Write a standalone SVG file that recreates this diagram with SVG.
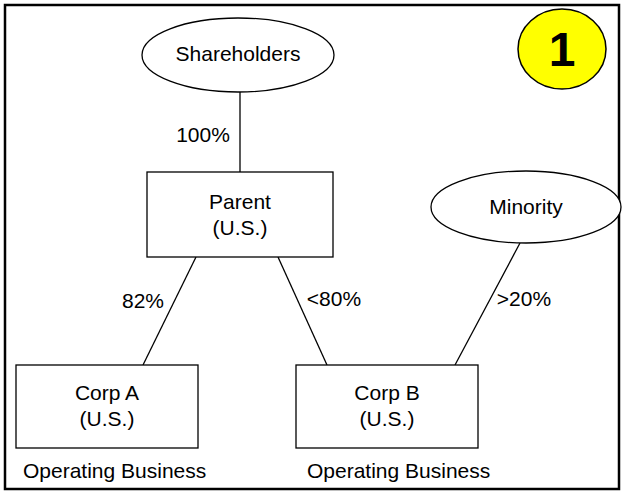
<svg xmlns="http://www.w3.org/2000/svg" width="624" height="495" viewBox="0 0 624 495">
<style>
text{font-family:"Liberation Sans",Arial,sans-serif;font-size:21px;fill:#000}
.shape{fill:#fff;stroke:#000;stroke-width:1.3}
.c{text-anchor:middle}
.conn line{stroke:#000;stroke-width:1.3}
</style>
<rect x="0" y="0" width="624" height="495" fill="#fff"/>
<rect x="5" y="5" width="614" height="484" fill="none" stroke="#000" stroke-width="2.5"/>
<g id="conns" class="conn">
<line x1="240" y1="92" x2="240" y2="172"/>
<line x1="196" y1="257" x2="143" y2="365"/>
<line x1="278" y1="257" x2="327" y2="365"/>
<line x1="520" y1="243" x2="455" y2="365"/>
</g>
<g id="labels">
<text x="203" y="142" class="c">100%</text>
<text x="143" y="308" class="c">82%</text>
<text x="334" y="306" class="c">&lt;80%</text>
<text x="524" y="306" class="c">&gt;20%</text>
</g>
<g id="shareholders">
<ellipse cx="238" cy="55" rx="96" ry="37" class="shape"/>
<text x="238" y="61" class="c">Shareholders</text>
</g>
<g id="badge">
<ellipse cx="562" cy="49" rx="44" ry="40" fill="#ff0" stroke="#000" stroke-width="1.5"/>
<text x="562" y="66" class="c" style="font-size:48px;font-weight:bold">1</text>
</g>
<g id="parent">
<rect x="147" y="172" width="186" height="85" class="shape"/>
<text x="240" y="209" class="c">Parent</text>
<text x="240" y="235" class="c">(U.S.)</text>
</g>
<g id="minority">
<ellipse cx="526" cy="207" rx="95" ry="36" class="shape"/>
<text x="526" y="214" class="c">Minority</text>
</g>
<g id="corpA">
<rect x="16" y="365" width="182" height="83" class="shape"/>
<text x="107" y="400" class="c">Corp A</text>
<text x="107" y="426" class="c">(U.S.)</text>
<text x="23" y="478">Operating Business</text>
</g>
<g id="corpB">
<rect x="296" y="365" width="182" height="83" class="shape"/>
<text x="387" y="400" class="c">Corp B</text>
<text x="387" y="426" class="c">(U.S.)</text>
<text x="307" y="478">Operating Business</text>
</g>
</svg>
